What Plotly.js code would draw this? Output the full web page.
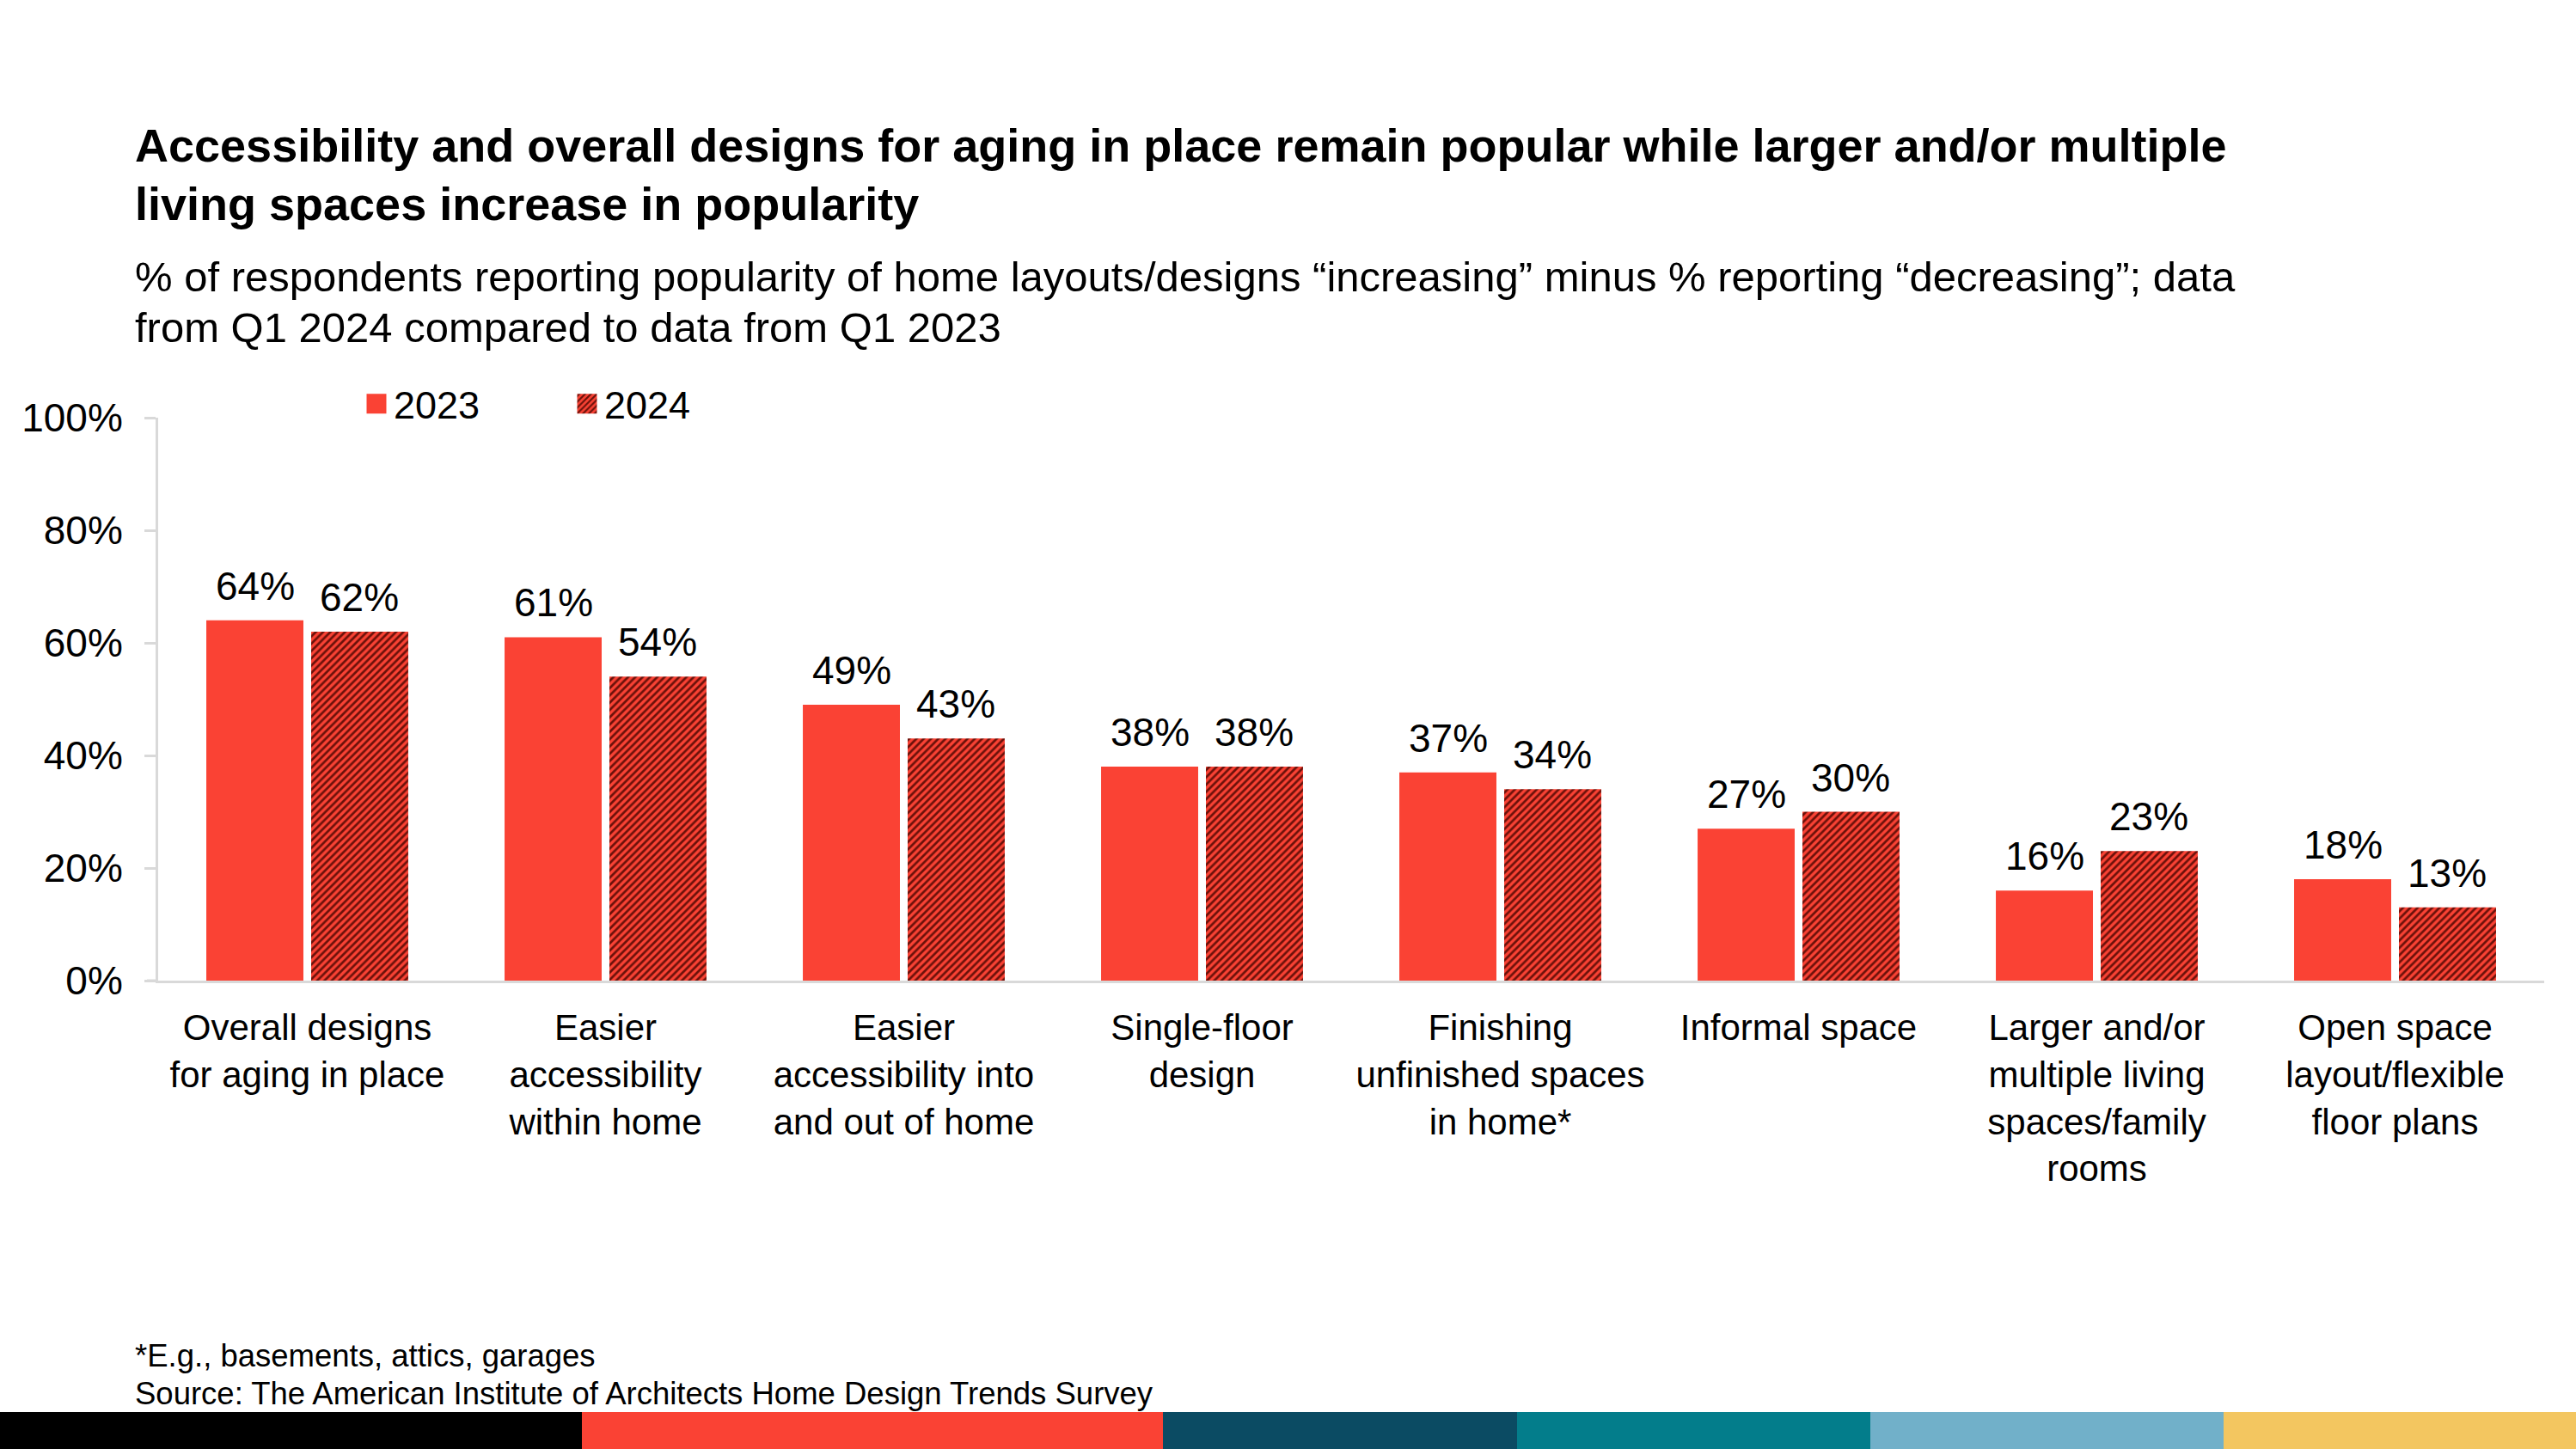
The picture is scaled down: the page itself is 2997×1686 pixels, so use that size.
<!DOCTYPE html>
<html>
<head>
<meta charset="utf-8">
<script src="https://cdn.plot.ly/plotly-3.0.1.min.js"></script>
<style>html,body{margin:0;padding:0;background:#fff;}#chart{width:2997px;height:1686px;}</style>
</head>
<body>
<div id="chart"></div>
<script>
// ---- data ----
const categories = [
  "Overall designs<br>for aging in place",
  "Easier<br>accessibility<br>within home",
  "Easier<br>accessibility into<br>and out of home",
  "Single-floor<br>design",
  "Finishing<br>unfinished spaces<br>in home*",
  "Informal space",
  "Larger and/or<br>multiple living<br>spaces/family<br>rooms",
  "Open space<br>layout/flexible<br>floor plans"
];
const values2023 = [0.64, 0.61, 0.49, 0.38, 0.37, 0.27, 0.16, 0.18];
const values2024 = [0.62, 0.54, 0.43, 0.38, 0.34, 0.30, 0.23, 0.13];
const seriesNames = ["2023", "2024"];
const yTickVals = [0, 0.2, 0.4, 0.6, 0.8, 1.0];

const titleLines = [
  "Accessibility and overall designs for aging in place remain popular while larger and/or multiple",
  "living spaces increase in popularity"
];
const subtitleLines = [
  "% of respondents reporting popularity of home layouts/designs \u201cincreasing\u201d minus % reporting \u201cdecreasing\u201d; data",
  "from Q1 2024 compared to data from Q1 2023"
];
const footnoteText = "*E.g., basements, attics, garages";
const sourceText = "Source: The American Institute of Architects Home Design Trends Survey";
const stripColors = ["#000000", "#FA4234", "#0B4B63", "#037D8B", "#71B0C9", "#F3C660"];
const stripBreaks = [0, 677, 1353, 1765, 2176, 2587, 2997];

// ---- layout helpers ----
const W = 2997, H = 1686;
const M = {l: 184, r: 37, t: 486, b: 545};
const PW = W - M.l - M.r, PH = H - M.t - M.b;
const px = x => (x - M.l) / PW;
const py = y => (H - M.b - y) / PH;

const RED = "#FA4234";
const FONT = "Liberation Sans, Arial, sans-serif";
const BARGAP = 0.297, GROUPGAP = 0.074;
const slotPx = PW / categories.length * (1 - BARGAP) / 2;

const traces = [
  {
    type: "bar", name: seriesNames[0], x: categories, y: values2023,
    marker: {color: RED, line: {width: 0}},
    hoverinfo: "skip"
  },
  {
    type: "bar", name: seriesNames[1], x: categories, y: values2024,
    marker: {color: RED, line: {width: 0},
      pattern: {shape: "/", size: 6, solidity: 0.45, fgcolor: "#6a110a", bgcolor: RED, fillmode: "replace"}},
    hoverinfo: "skip"
  }
];

const shapes = [];
for (let i = 0; i < stripColors.length; i++) {
  shapes.push({
    type: "rect", xref: "paper", yref: "paper", layer: "above",
    x0: px(stripBreaks[i]), x1: px(stripBreaks[i + 1]),
    y0: py(1686), y1: py(1643),
    fillcolor: stripColors[i], line: {width: 0}
  });
}
// extend baseline left under the tick length
shapes.push({type: "line", xref: "paper", yref: "paper", x0: px(171), x1: 0, y0: 0, y1: 0,
  line: {color: "#d9d9d9", width: 3}});

const annotations = [];
const textAnn = (text, xPix, topPix, size) => ({
  text: text, xref: "paper", yref: "paper", x: px(xPix), y: py(topPix),
  xanchor: "left", yanchor: "top", align: "left", showarrow: false,
  font: {size: size, color: "#000", family: FONT}
});
annotations.push(textAnn("<b>" + titleLines[0] + "</b>", 155, 137, 54));
annotations.push(textAnn("<b>" + titleLines[1] + "</b>", 155, 205, 54));
annotations.push(textAnn(subtitleLines[0], 155, 293, 49));
annotations.push(textAnn(subtitleLines[1], 155, 352, 49));
annotations.push(textAnn(footnoteText, 155, 1555, 36.5));
annotations.push(textAnn(sourceText, 155, 1599, 36.5));

// value labels above bars, positioned by the axes
[values2023, values2024].forEach((vals, s) => {
  vals.forEach((v, j) => {
    annotations.push({
      x: categories[j], y: v, xref: "x", yref: "y",
      text: Math.round(v * 100) + "%", showarrow: false,
      xanchor: "center", yanchor: "bottom",
      xshift: (s === 0 ? -1 : 1) * slotPx / 2, yshift: 12,
      font: {size: 46, color: "#000", family: FONT}
    });
  });
});

const layout = {
  width: W, height: H,
  margin: M,
  paper_bgcolor: "#fff", plot_bgcolor: "#fff",
  font: {family: FONT, color: "#000", size: 42},
  barmode: "group", bargap: BARGAP, bargroupgap: GROUPGAP,
  showlegend: true,
  legend: {orientation: "h", x: px(418), xanchor: "left", y: py(470), yanchor: "middle",
    font: {size: 45, color: "#000", family: FONT}, traceorder: "normal",
    entrywidth: 200, entrywidthmode: "pixels", bgcolor: "rgba(0,0,0,0)"},
  xaxis: {
    type: "category", showgrid: false, zeroline: false,
    showline: true, linecolor: "#d9d9d9", linewidth: 3,
    ticks: "", tickfont: {size: 42, color: "#000", family: FONT},
    ticklabelstandoff: 16, automargin: false
  },
  yaxis: {
    range: [0, 1], tickvals: yTickVals, tickformat: ".0%",
    showgrid: false, zeroline: false,
    showline: true, linecolor: "#d9d9d9", linewidth: 3,
    ticks: "outside", ticklen: 13, tickcolor: "#d9d9d9", tickwidth: 3,
    tickfont: {size: 46, color: "#000", family: FONT},
    ticklabelstandoff: 16, automargin: false
  },
  shapes: shapes,
  annotations: annotations
};

Plotly.newPlot("chart", traces, layout, {staticPlot: true, displayModeBar: false}).then(gd => {
  // enlarge legend swatches to match the reference's bigger squares
  gd.querySelectorAll(".legend .legendpoints path").forEach(p => {
    p.setAttribute("d", "M11.5,11.5H-11.5V-11.5H11.5Z");
  });
});
</script>
</body>
</html>
